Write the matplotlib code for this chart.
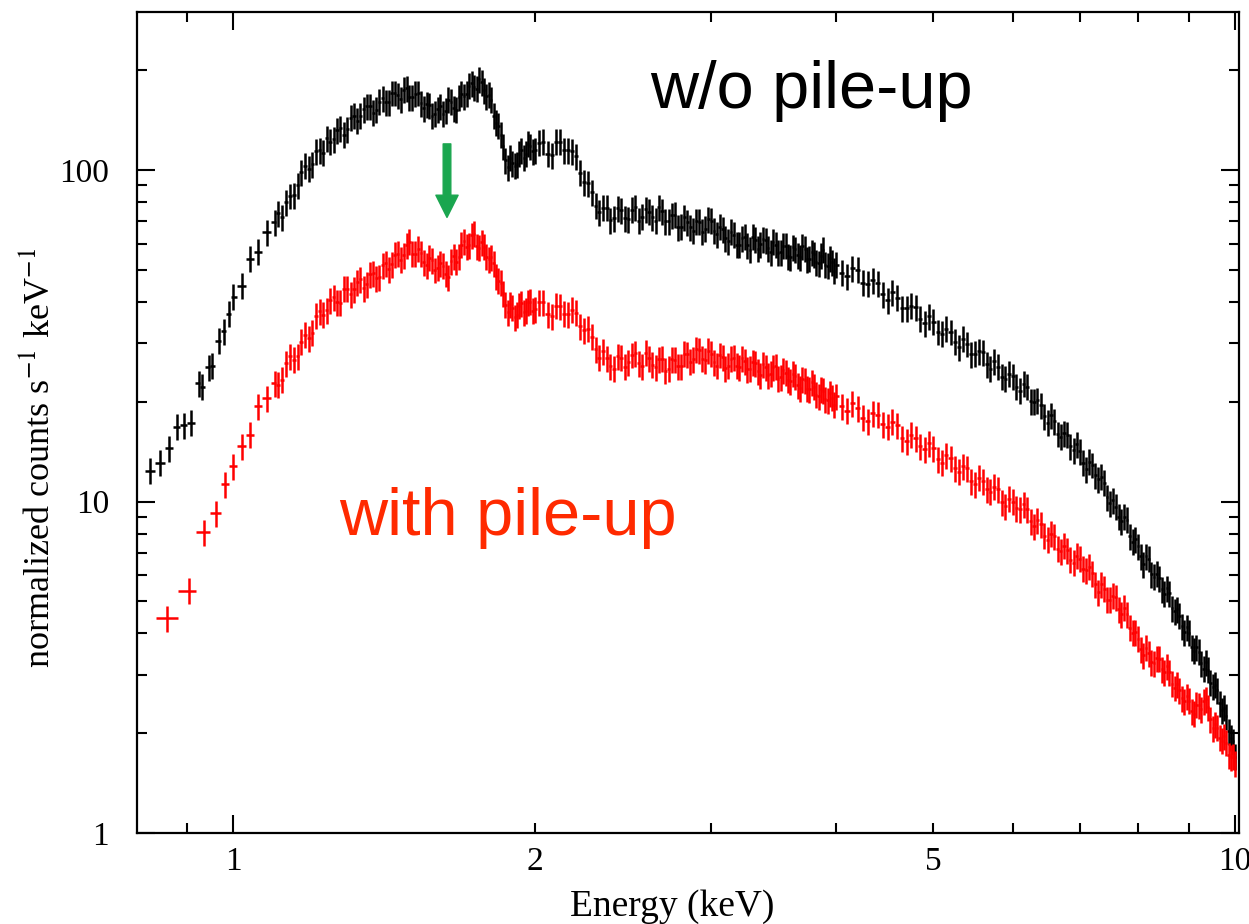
import numpy as np
import matplotlib
matplotlib.use("Agg")
import matplotlib.pyplot as plt
from matplotlib.ticker import FixedLocator, FuncFormatter, NullFormatter

plt.rcParams['font.family'] = ['Liberation Serif', 'DejaVu Serif']
plt.rcParams['mathtext.fontset'] = 'stix'

# spectral bins below 1 keV (each spectrum has its own grouping)
energy_low_black = [0.827, 0.846, 0.864, 0.879, 0.893, 0.907, 0.924, 0.931,
                    0.946, 0.953, 0.968, 0.979, 0.990]
counts_low_black = [12.4, 13.1, 14.5, 16.8, 17.0, 17.3, 22.8, 22.2,
                    25.4, 25.7, 30.6, 32.7, 36.9]
energy_low_red = [0.859, 0.903, 0.935, 0.962, 0.982]
counts_low_red = [4.44, 5.38, 8.08, 9.23, 11.3]

# common bins from 1 to 10 keV
energy_a = [1.00, 1.02, 1.04, 1.06, 1.08, 1.10, 1.12, 1.14, 1.16, 1.18,
            1.20, 1.22, 1.24, 1.26, 1.28, 1.30, 1.32, 1.34, 1.36, 1.38,
            1.40, 1.42, 1.44, 1.46, 1.48, 1.50, 1.52, 1.54, 1.56, 1.58,
            1.60, 1.62, 1.64, 1.66, 1.68, 1.70, 1.72, 1.74, 1.76, 1.78,
            1.80, 1.82, 1.84, 1.86, 1.88, 1.90, 1.92, 1.94, 1.96, 1.98]
energy_a2 = [1.11, 1.13, 1.15, 1.17, 1.19, 1.21, 1.23, 1.25, 1.27, 1.29,
             1.31, 1.33, 1.35, 1.37, 1.39, 1.41, 1.43, 1.45, 1.47, 1.49,
             1.51, 1.53, 1.55, 1.57, 1.59, 1.61, 1.63, 1.65, 1.67, 1.69,
             1.71, 1.73, 1.75, 1.77, 1.79, 1.81, 1.83, 1.85, 1.87, 1.89,
             1.91, 1.93, 1.95, 1.97, 1.99]
energy_b = [2.00, 2.04, 2.08, 2.12, 2.16, 2.20, 2.24, 2.28, 2.32, 2.36,
            2.40, 2.44, 2.48, 2.52, 2.56, 2.60, 2.64, 2.68, 2.72, 2.76,
            2.80, 2.84, 2.88, 2.92, 2.96, 3.00, 3.04, 3.08, 3.12, 3.16,
            3.20, 3.24, 3.28, 3.32, 3.36, 3.40, 3.44, 3.48, 3.52, 3.56,
            3.60, 3.64, 3.68, 3.72, 3.76, 3.80, 3.84, 3.88, 3.92, 3.96]
energy_b2 = [2.02, 2.06, 2.10, 2.14, 2.18, 2.22, 2.26, 2.30, 2.34, 2.38,
             2.42, 2.46, 2.50, 2.54, 2.58, 2.62, 2.66, 2.70, 2.74, 2.78,
             2.82, 2.86, 2.90, 2.94, 2.98, 3.02, 3.06, 3.10, 3.14, 3.18,
             3.22, 3.26, 3.30, 3.34, 3.38, 3.42, 3.46, 3.50, 3.54, 3.58,
             3.62, 3.66, 3.70, 3.74, 3.78, 3.82, 3.86, 3.90, 3.94, 3.98]
energy_c = [4.0, 4.1, 4.2, 4.3, 4.4, 4.5, 4.6, 4.7, 4.8, 4.9,
            5.0, 5.1, 5.2, 5.3, 5.4, 5.5, 5.6, 5.7, 5.8, 5.9,
            6.0, 6.1, 6.2, 6.3, 6.4, 6.5, 6.6, 6.7, 6.8, 6.9,
            7.0, 7.1, 7.2, 7.3, 7.4, 7.5, 7.6, 7.7, 7.8, 7.9,
            8.0, 8.1, 8.2, 8.3, 8.4, 8.5, 8.6, 8.7, 8.8, 8.9,
            9.0, 9.1, 9.2, 9.3, 9.4, 9.5, 9.6, 9.7, 9.8, 9.9,
            10.0]
energy_c2 = [4.05, 4.15, 4.25, 4.35, 4.45, 4.55, 4.65, 4.75, 4.85, 4.95,
             5.05, 5.15, 5.25, 5.35, 5.45, 5.55, 5.65, 5.75, 5.85, 5.95,
             6.05, 6.15, 6.25, 6.35, 6.45, 6.55, 6.65, 6.75, 6.85, 6.95,
             7.05, 7.15, 7.25, 7.35, 7.45, 7.55, 7.65, 7.75, 7.85, 7.95,
             8.05, 8.15, 8.25, 8.35, 8.45, 8.55, 8.65, 8.75, 8.85, 8.95,
             9.05, 9.15, 9.25, 9.35, 9.45, 9.55, 9.65, 9.75, 9.85, 9.95]

# w/o pile-up (black)
black_a = [41.5, 44.8, 54.1, 56.8, 64.9, 69.7, 72.0, 83.6, 90.1, 103,
           104, 115, 125, 124, 134, 133, 146, 146, 156, 149,
           161, 160, 171, 168, 175, 166, 170, 159, 158, 146,
           153, 148, 163, 154, 166, 167, 180, 178, 188, 174,
           169, 146, 136, 118, 102, 105, 104, 115, 112, 118]
black_a2 = [74.2, 80.1, 83.9, 98.4, 101, 114, 113, 122, 132, 128,
            144, 141, 153, 156, 152, 165, 160, 171, 164, 177,
            166, 171, 154, 157, 148, 156, 151, 161, 152, 170,
            170, 183, 176, 184, 167, 163, 139, 128, 107, 109,
            103, 112, 109, 120, 114]
black_b = [115, 122, 111, 122, 115, 110, 92.1, 85.7, 74.7, 77.0,
           71.5, 75.7, 71.0, 77.2, 72.3, 75.0, 70.3, 75.2, 70.1, 73.3,
           67.6, 69.7, 65.6, 69.9, 66.5, 70.4, 64.2, 66.3, 61.0, 63.9,
           59.5, 62.9, 57.5, 61.7, 59.8, 61.5, 56.6, 59.5, 56.5, 59.1,
           54.7, 57.8, 54.7, 58.0, 54.1, 55.7, 52.4, 57.6, 51.5, 52.7]
black_b2 = [121, 112, 122, 115, 114, 98.3, 91.5, 78.0, 77.0, 70.6,
            76.9, 71.5, 75.9, 70.3, 76.1, 72.2, 77.2, 70.0, 73.1, 67.3,
            72.1, 67.2, 70.1, 65.2, 71.2, 65.6, 67.6, 62.3, 65.2, 59.5,
            62.4, 59.3, 62.9, 58.0, 61.8, 58.1, 60.9, 56.3, 59.2, 54.9,
            58.5, 55.4, 58.9, 53.8, 56.5, 52.7, 55.2, 51.8, 54.2, 49.7]
black_c = [51.8, 47.8, 50.1, 45.4, 45.5, 40.5, 41.2, 38.3, 38.6, 34.5,
           34.9, 32.1, 32.5, 29.2, 29.9, 27.9, 28.2, 25.2, 25.5, 23.5,
           23.9, 21.6, 22.2, 20.0, 19.5, 17.3, 17.5, 15.7, 15.9, 14.3,
           14.2, 12.5, 12.9, 11.7, 11.4, 9.89, 9.64, 8.72, 8.82, 7.57,
           7.34, 6.48, 6.72, 5.93, 5.87, 5.27, 5.30, 4.66, 4.52, 4.03,
           4.02, 3.55, 3.52, 3.13, 3.11, 2.76, 2.70, 2.35, 2.25, 1.94,
           1.70]
black_c2 = [49.0, 50.6, 45.8, 46.6, 42.3, 42.9, 38.3, 39.0, 35.6, 36.3,
            32.5, 33.2, 30.4, 31.0, 27.8, 28.4, 26.0, 26.5, 23.8, 24.3,
            22.2, 22.7, 20.1, 20.2, 18.1, 18.2, 16.0, 16.1, 14.7, 14.9,
            13.1, 13.2, 12.0, 11.9, 10.3, 10.1, 8.99, 9.00, 7.85, 7.71,
            6.83, 6.83, 6.03, 6.05, 5.45, 5.47, 4.77, 4.73, 4.20, 4.17,
            3.63, 3.63, 3.25, 3.27, 2.84, 2.80, 2.46, 2.39, 2.03, 1.89]

# with pile-up (red)
red_a = [12.8, 14.7, 15.9, 19.4, 20.5, 22.8, 23.3, 27.4, 27.5, 31.9,
         32.3, 37.5, 37.8, 41.3, 39.8, 43.9, 43.8, 46.8, 45.2, 48.8,
         47.6, 52.3, 52.0, 56.0, 55.3, 60.8, 55.9, 56.1, 51.6, 53.4,
         50.8, 51.5, 47.5, 54.9, 54.8, 61.1, 59.4, 64.3, 58.4, 58.7,
         53.8, 52.4, 46.4, 42.5, 37.3, 38.4, 36.6, 39.6, 37.7, 40.1]
red_a2 = [22.5, 26.1, 26.8, 30.4, 31.1, 36.4, 36.6, 40.5, 40.0, 43.9,
          42.3, 45.9, 44.0, 48.6, 47.2, 51.7, 50.3, 55.6, 53.7, 59.4,
          56.0, 57.9, 52.7, 54.4, 50.0, 52.4, 48.7, 53.1, 52.9, 59.6,
          58.7, 63.6, 58.9, 60.6, 54.8, 54.7, 47.8, 45.7, 39.3, 39.4,
          36.0, 39.0, 37.2, 39.9, 37.7]
red_b = [38.1, 40.0, 36.2, 38.9, 36.8, 37.1, 32.9, 31.4, 27.2, 27.1,
         25.2, 27.2, 26.3, 28.0, 25.6, 27.1, 25.4, 27.0, 25.2, 26.8,
         25.6, 27.8, 26.9, 28.6, 26.7, 27.9, 25.7, 27.3, 25.7, 27.2,
         25.4, 26.5, 25.2, 26.2, 24.1, 25.4, 24.3, 25.6, 23.7, 24.5,
         23.1, 23.9, 22.0, 23.2, 21.8, 22.2, 20.8, 21.6, 20.2, 20.6]
red_b2 = [39.9, 36.8, 39.0, 36.9, 37.9, 33.8, 33.2, 28.8, 28.4, 25.6,
          27.4, 25.5, 27.7, 26.1, 28.1, 25.9, 26.9, 24.8, 26.9, 25.6,
          27.9, 26.4, 28.8, 27.0, 28.5, 26.3, 27.7, 25.3, 27.0, 25.7,
          27.1, 25.1, 26.3, 24.7, 26.0, 24.1, 25.4, 23.5, 24.9, 23.3,
          24.3, 22.4, 23.4, 21.9, 22.9, 21.0, 21.8, 20.4, 21.2, 19.6]
red_c = [20.8, 18.8, 19.1, 17.5, 18.3, 16.8, 17.0, 15.2, 15.5, 14.4,
         14.5, 13.1, 13.5, 12.3, 12.6, 11.3, 11.5, 10.7, 10.9, 9.70,
         10.0, 9.49, 9.48, 8.43, 8.53, 7.67, 7.86, 7.08, 7.12, 6.54,
         6.73, 6.21, 6.07, 5.33, 5.46, 5.05, 5.15, 4.58, 4.57, 4.02,
         3.86, 3.44, 3.49, 3.25, 3.36, 3.05, 3.06, 2.74, 2.70, 2.50,
         2.51, 2.29, 2.43, 2.50, 2.40, 2.07, 2.08, 1.90, 1.87, 1.69,
         1.62]
red_c2 = [19.4, 19.8, 17.9, 18.5, 17.1, 17.4, 15.5, 15.9, 14.7, 15.0,
          13.4, 13.8, 12.6, 12.8, 11.5, 11.8, 10.9, 11.1, 9.94, 10.2,
          9.55, 9.82, 8.72, 8.79, 7.89, 8.00, 7.21, 7.35, 6.68, 6.86,
          6.27, 6.36, 5.64, 5.64, 5.06, 5.20, 4.73, 4.78, 4.16, 4.04,
          3.58, 3.62, 3.27, 3.37, 3.12, 3.19, 2.82, 2.81, 2.55, 2.59,
          2.33, 2.44, 2.36, 2.53, 2.20, 2.13, 1.94, 1.96, 1.72, 1.70]

REL_ERR = 0.09


def bin_halfwidths(e):
    mid = np.sqrt(e[1:] * e[:-1])
    edges = np.concatenate([[e[0] ** 2 / mid[0]], mid, [e[-1] ** 2 / mid[-1]]])
    return np.vstack([e - edges[:-1], edges[1:] - e])


def plot_spectrum(ax, energy, counts, color):
    energy = np.asarray(energy, dtype=float)
    counts = np.asarray(counts, dtype=float)
    order = np.argsort(energy)
    energy, counts = energy[order], counts[order]
    ax.errorbar(energy, counts, xerr=bin_halfwidths(energy),
                yerr=REL_ERR * counts, fmt='none', ecolor=color,
                elinewidth=1.8, capsize=0)


fig = plt.figure(figsize=(12.49, 9.24), dpi=100)
ax = fig.add_axes([0.1097, 0.0985, 0.8823, 0.8885])

e_main = energy_a + energy_a2 + energy_b + energy_b2 + energy_c + energy_c2
plot_spectrum(ax, energy_low_black + e_main,
              counts_low_black + black_a + black_a2 + black_b + black_b2 + black_c + black_c2,
              'black')
plot_spectrum(ax, energy_low_red + e_main,
              counts_low_red + red_a + red_a2 + red_b + red_b2 + red_c + red_c2,
              '#ff0000')

ax.set_xscale('log')
ax.set_yscale('log')
ax.set_xlim(0.802, 10.09)
ax.set_ylim(1, 300)

# x axis: majors at 1 and 10, labelled minors at 2 and 5
ax.xaxis.set_major_locator(FixedLocator([1, 10]))
ax.xaxis.set_major_formatter(FuncFormatter(lambda v, p: f"{v:g}"))
ax.xaxis.set_minor_locator(FixedLocator([0.9, 2, 3, 4, 5, 6, 7, 8, 9]))
ax.xaxis.set_minor_formatter(FuncFormatter(lambda v, p: f"{v:g}" if v in (2, 5) else ""))
ax.yaxis.set_major_locator(FixedLocator([1, 10, 100]))
ax.yaxis.set_major_formatter(FuncFormatter(lambda v, p: f"{v:g}"))
ax.yaxis.set_minor_locator(FixedLocator([2, 3, 4, 5, 6, 7, 8, 9,
                                         20, 30, 40, 50, 60, 70, 80, 90, 200]))
ax.yaxis.set_minor_formatter(NullFormatter())

ax.tick_params(which='both', direction='in', top=True, right=True, width=1.5,
               labelsize=24)
ax.tick_params(which='major', length=13)
ax.tick_params(which='minor', length=7)
ax.tick_params(axis='x', which='both', pad=10)
ax.tick_params(axis='y', which='both', pad=20)
for s in ax.spines.values():
    s.set_linewidth(1.6)

ax.set_xlabel('Energy (keV)', fontsize=27)
ax.xaxis.set_label_coords(0.486, -0.069)
ax.set_ylabel('normalized counts s$^{-1}$ keV$^{-1}$', fontsize=26)
ax.yaxis.set_label_coords(-0.073, 0.457)

ax.text(3.78, 173, 'w/o pile-up', fontsize=48, color='black',
        family='Liberation Sans', ha='center', va='center')
ax.text(1.88, 8.95, 'with pile-up', fontsize=48, color='#ff2a00',
        family='Liberation Sans', ha='center', va='center')

ax.annotate('', xy=(1.635, 72), xytext=(1.635, 120),
            arrowprops=dict(width=5.5, headwidth=16, headlength=16,
                            color='#1aa64f', shrink=0))

fig.savefig('out.png', dpi=100)
